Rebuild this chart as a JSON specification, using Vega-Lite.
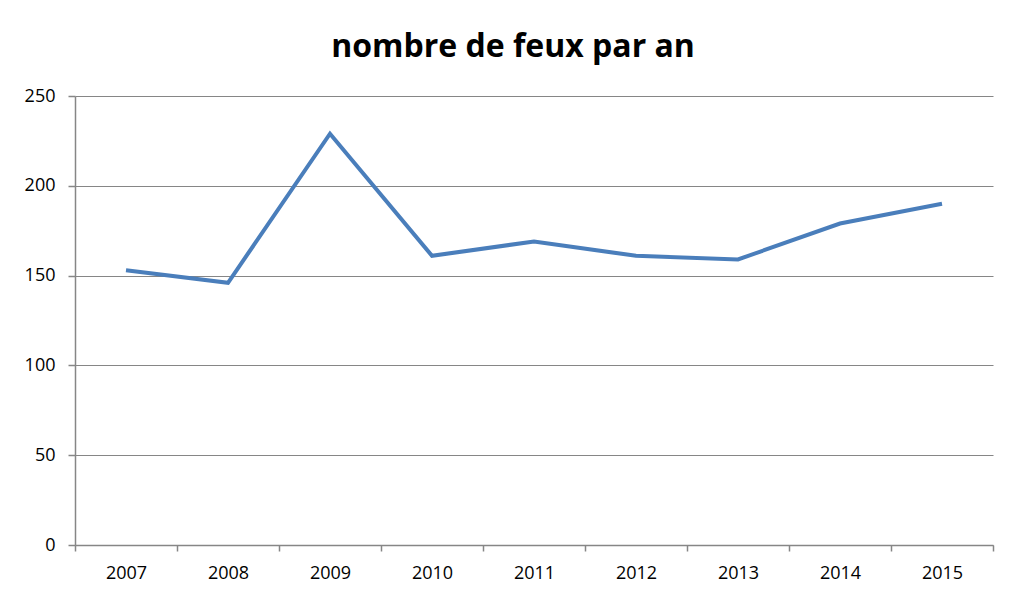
{
  "$schema": "https://vega.github.io/schema/vega-lite/v6.json",
  "width": 918,
  "height": 449,
  "autosize": {"type": "none"},
  "padding": {"left": 75, "top": 96, "right": 33, "bottom": 53},
  "background": "white",
  "title": {
    "text": "nombre de feux par an",
    "font": "Open Sans",
    "fontSize": 32,
    "fontWeight": "bold",
    "color": "#000000",
    "anchor": "middle",
    "frame": "group",
    "dx": -21,
    "baseline": "bottom",
    "offset": 0,
    "dy": 9
  },
  "data": {
    "values": [
      {"annee": "2007", "feux": 153},
      {"annee": "2008", "feux": 146},
      {"annee": "2009", "feux": 229},
      {"annee": "2010", "feux": 161},
      {"annee": "2011", "feux": 169},
      {"annee": "2012", "feux": 161},
      {"annee": "2013", "feux": 159},
      {"annee": "2014", "feux": 179},
      {"annee": "2015", "feux": 190}
    ]
  },
  "mark": {"type": "line", "color": "#4A7EBB", "strokeWidth": 4, "strokeJoin": "miter"},
  "encoding": {
    "x": {
      "field": "annee",
      "type": "ordinal",
      "bandPosition": 0.5,
      "scale": {"type": "band", "paddingInner": 0, "paddingOuter": 0},
      "axis": {
        "title": null,
        "tickBand": "extent",
        "grid": false,
        "domainColor": "#868686",
        "domainWidth": 1.5,
        "tickColor": "#868686",
        "tickWidth": 1.5,
        "tickSize": 6,
        "labelAngle": 0,
        "labelFont": "Open Sans",
        "labelFontSize": 18,
        "labelColor": "#000000",
        "labelPadding": 13
      }
    },
    "y": {
      "field": "feux",
      "type": "quantitative",
      "scale": {"domain": [0, 250], "nice": false},
      "axis": {
        "title": null,
        "values": [0, 50, 100, 150, 200, 250],
        "grid": true,
        "gridColor": "#868686",
        "gridWidth": 1.2,
        "domainColor": "#868686",
        "domainWidth": 1.5,
        "tickColor": "#868686",
        "tickWidth": 1.5,
        "tickSize": 7,
        "labelFont": "Open Sans",
        "labelFontSize": 18,
        "labelColor": "#000000",
        "labelPadding": 13
      }
    }
  },
  "config": {"view": {"stroke": null}}
}
